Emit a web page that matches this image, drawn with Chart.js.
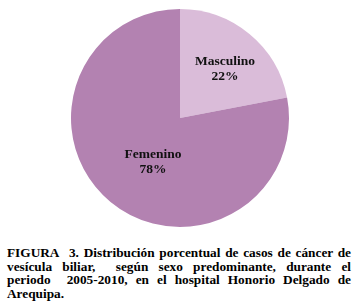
<!DOCTYPE html>
<html>
<head>
<meta charset="utf-8">
<script src="https://cdn.jsdelivr.net/npm/chart.js@4.4.1/dist/chart.umd.min.js"></script>
<style>
  html, body { margin: 0; padding: 0; background: #fff; }
  #wrap { position: relative; width: 359px; height: 234px; }
  #caption {
    position: absolute; left: 7px; top: 246px; width: 344px;
    font-family: "Liberation Serif", "Times New Roman", serif;
    font-weight: bold; font-size: 13.3px; line-height: 13.5px;
    color: #000;
  }
  #caption div { text-align: justify; text-align-last: justify; white-space: nowrap; }
  #caption div.last { text-align-last: left; }
</style>
</head>
<body>
<div id="wrap"><canvas id="pieChart"></canvas></div>
<div id="caption">
  <div>FIGURA&nbsp; 3. Distribución porcentual de casos de cáncer de</div>
  <div>vesícula biliar,&nbsp; según sexo predominante, durante el</div>
  <div>periodo&nbsp; 2005-2010, en el hospital Honorio Delgado de</div>
  <div class="last">Arequipa.</div>
</div>
<script>
var labels = ["Masculino", "Femenino"];
var values = [22, 78];
var colors = ["#dabcd9", "#b382b1"];

// draws "label / xx%" inside each slice
var sliceLabels = {
    id: 'sliceLabels',
    afterDatasetsDraw: function(chart) {
        var ctx = chart.ctx;
        var meta = chart.getDatasetMeta(0);
        var offsets = [[45, -56], [-27, 37]];
        ctx.save();
        ctx.font = 'bold 13.5px "Liberation Serif", serif';
        ctx.fillStyle = '#111';
        ctx.textAlign = 'center';
        ctx.textBaseline = 'middle';
        meta.data.forEach(function(arc, i) {
            var cx = arc.x + offsets[i][0];
            var cy = arc.y + offsets[i][1];
            ctx.fillText(labels[i], cx, cy);
            ctx.fillText(values[i] + '%', cx, cy + 15);
        });
        ctx.restore();
    }
};

var ctx = document.getElementById("pieChart").getContext('2d');
var pieChart = new Chart(ctx, {
    type: 'pie',
    data: {
        labels: labels,
        datasets: [{
            data: values,
            backgroundColor: colors,
            borderWidth: 0
        }]
    },
    options: {
        responsive: true,
        maintainAspectRatio: false,
        animation: false,
        layout: { padding: { top: 9, bottom: 7, left: 1, right: 0 } },
        plugins: {
            legend: { display: false },
            tooltip: { enabled: false }
        }
    },
    plugins: [sliceLabels]
});
</script>
</body>
</html>
